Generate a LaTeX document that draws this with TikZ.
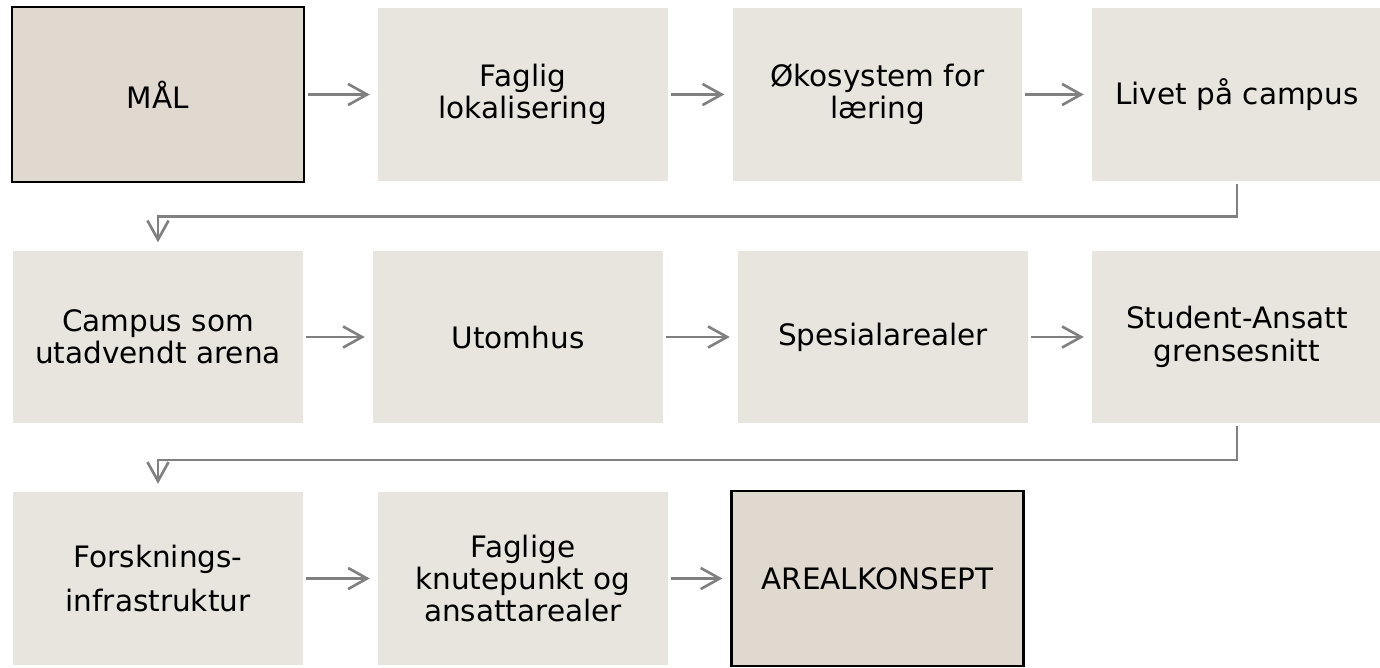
\documentclass[tikz,border=0pt]{standalone}
\usepackage{fontspec}
\setmainfont{DejaVu Sans}
\usetikzlibrary{arrows.meta}
\definecolor{stepfill}{HTML}{E8E5DF}
\definecolor{goalfill}{HTML}{E0D9CF}
\definecolor{linkgray}{HTML}{808080}
\tikzset{
  stepbox/.style={fill=stepfill, minimum width=5.8cm, minimum height=3.46cm,
    inner sep=0pt, align=center, font=\fontsize{16.8}{18.4}\selectfont},
  goalbox/.style={stepbox, fill=goalfill, draw=black, line width=1.4pt,
    minimum width=5.84cm, minimum height=3.5cm},
  link/.style={draw=linkgray, line width=1.5pt,
    -{Straight Barb[length=10.8pt, width=12pt, line width=1.5pt]},
    shorten <=1.5pt, shorten >=4.5pt},
}
\begin{document}
\begin{tikzpicture}[x=0.02cm, y=-0.02cm]
\useasboundingbox (0,0) rectangle (1380,667);
% first row
\node[goalbox] (maal) at (158,94.5) {MÅL};
\node[stepbox] (faglig) at (523,94.5) {Faglig\\lokalisering};
\node[stepbox] (okosystem) at (877.5,94.5) {Økosystem for\\læring};
\node[stepbox] (livet) at (1237,94.5) {Livet på campus};
% second row
\node[stepbox] (utadvendt) at (158,337) {Campus som\\utadvendt arena};
\node[stepbox] (utomhus) at (518,337) {Utomhus};
\node[stepbox] (spesial) at (883,337) {Spesialarealer};
\node[stepbox] (grensesnitt) at (1237,337) {Student-Ansatt\\grensesnitt};
% third row
\node[stepbox] (forskning) at (158,578.5) {Forsknings-\\[6.8pt]infrastruktur};
\node[stepbox] (knutepunkt) at (523,578.5) {Faglige\\knutepunkt og\\ansattarealer};
\node[goalbox] (arealkonsept) at (877.5,578.5) {AREALKONSEPT};
% arrows
\draw[link] (maal) -- (faglig);
\draw[link] (faglig) -- (okosystem);
\draw[link] (okosystem) -- (livet);
\draw[link] (livet.south) -- ++(0,35) -| (utadvendt.north);
\draw[link] (utadvendt) -- (utomhus);
\draw[link] (utomhus) -- (spesial);
\draw[link] (spesial) -- (grensesnitt);
\draw[link] (grensesnitt.south) -- ++(0,36) -| (forskning.north);
\draw[link] (forskning) -- (knutepunkt);
\draw[link] (knutepunkt) -- (arealkonsept);
\end{tikzpicture}
\end{document}
